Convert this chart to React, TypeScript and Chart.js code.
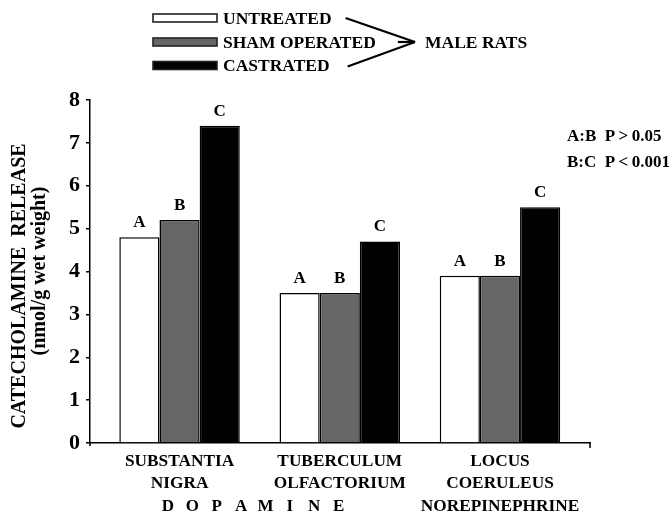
import { useEffect, useRef } from 'react';
import { Chart, registerables } from 'chart.js';

Chart.register(...registerables);

// Brain regions (x axis), one multi-line label each
const regions: string[][] = [
  ['SUBSTANTIA', 'NIGRA'],
  ['TUBERCULUM', 'OLFACTORIUM'],
  ['LOCUS', 'COERULEUS', 'NOREPINEPHRINE'],
];
const dopamineLabel = 'DOPAMINE';

// Treatment groups
const groupNames = ['UNTREATED', 'SHAM OPERATED', 'CASTRATED'];
const groupLetters = ['A', 'B', 'C'];
const groupColors = ['#ffffff', '#666666', '#000000'];
const subjectLabel = 'MALE RATS';

// Catecholamine release, nmol/g wet weight
const untreated = [4.8, 3.5, 3.9];
const shamOperated = [5.2, 3.5, 3.9];
const castrated = [7.4, 4.7, 5.5];

const yTicks = [0, 1, 2, 3, 4, 5, 6, 7, 8];
const yTitle = ['CATECHOLAMINE  RELEASE', '(nmol/g wet weight)'];
const statsLines = ['A:B  P\u2009>\u20090.05', 'B:C  P\u2009<\u20090.001'];

const FONT = "'Liberation Serif', 'Times New Roman', serif";

const series = [untreated, shamOperated, castrated];

const overlay = {
  id: 'overlay',
  afterDraw(chart: any) {
    const ctx: CanvasRenderingContext2D = chart.ctx;
    const area = chart.chartArea;
    const xs = chart.scales.x;
    ctx.save();
    ctx.fillStyle = '#000';
    ctx.strokeStyle = '#000';

    // significance letters over each bar
    ctx.font = `bold 17px ${FONT}`;
    ctx.textAlign = 'center';
    ctx.textBaseline = 'alphabetic';
    chart.data.datasets.forEach((_ds: any, di: number) => {
      const meta = chart.getDatasetMeta(di);
      meta.data.forEach((bar: any) => {
        ctx.fillText(groupLetters[di], bar.x, bar.y - 10);
      });
    });

    // small end tick of the x axis and the y axis overhang
    ctx.lineWidth = 1.5;
    ctx.beginPath();
    ctx.moveTo(area.right, area.bottom);
    ctx.lineTo(area.right, area.bottom + 5);
    ctx.moveTo(area.left, area.bottom);
    ctx.lineTo(area.left, area.bottom + 3);
    ctx.stroke();

    // y axis title, two rotated lines
    ctx.font = `bold 20px ${FONT}`;
    ctx.textAlign = 'center';
    ctx.textBaseline = 'alphabetic';
    const titlePos = [
      { x: 25, y: 286 },
      { x: 45, y: 271 },
    ];
    yTitle.forEach((line, i) => {
      ctx.save();
      ctx.translate(titlePos[i].x, titlePos[i].y);
      ctx.rotate(-Math.PI / 2);
      ctx.fillText(line, 0, 0);
      ctx.restore();
    });

    // spaced transmitter name under the two dopamine regions
    ctx.font = `bold 17px ${FONT}`;
    ctx.textBaseline = 'middle';
    const centre = xs.getPixelForValue(0.46);
    const step = 24.4;
    const chars = dopamineLabel.split('');
    chars.forEach((c, i) => {
      ctx.fillText(c, centre + (i - (chars.length - 1) / 2) * step, 506.5);
    });

    // statistics
    ctx.textAlign = 'left';
    ctx.font = `bold 17px ${FONT}`;
    statsLines.forEach((s, i) => ctx.fillText(s, 567, 137 + i * 25.5));

    // legend
    const rowsY = [18, 42, 65.5];
    const boxX = 153;
    const boxW = 64;
    const boxH = 8;
    const textX = 223;
    ctx.font = `bold 17.5px ${FONT}`;
    const apexX = 415;
    const apexY = rowsY[1];
    const gaps = [14, 22, 18];
    chart.data.datasets.forEach((ds: any, i: number) => {
      const y = rowsY[i];
      ctx.fillStyle = ds.backgroundColor;
      ctx.fillRect(boxX, y - boxH / 2, boxW, boxH);
      ctx.lineWidth = 1.6;
      ctx.strokeStyle = '#222';
      ctx.strokeRect(boxX, y - boxH / 2, boxW, boxH);
      ctx.fillStyle = '#000';
      ctx.fillText(ds.label, textX, y + 1);
      const end = textX + ctx.measureText(ds.label).width + gaps[i];
      ctx.strokeStyle = '#000';
      ctx.lineWidth = 2.2;
      ctx.beginPath();
      ctx.moveTo(end, i === 1 ? apexY : y + (i === 0 ? 0 : 1));
      ctx.lineTo(apexX, apexY);
      ctx.stroke();
    });
    ctx.fillStyle = '#000';
    ctx.fillText(subjectLabel, apexX + 10, apexY + 1);

    ctx.restore();
  },
};

export default function App() {
  const canvasRef = useRef<HTMLCanvasElement>(null);

  useEffect(() => {
    const canvas = canvasRef.current;
    if (!canvas) return;
    const chart = new Chart(canvas, {
      type: 'bar',
      data: {
        datasets: series.map((vals, i) => ({
          label: groupNames[i],
          data: vals.map((v, j) => ({ x: j, y: v })),
          backgroundColor: groupColors[i],
          borderColor: '#000000',
          borderWidth: 1.5,
          categoryPercentage: 0.752,
          barPercentage: 1,
        })),
      },
      options: {
        responsive: false,
        animation: false,
        devicePixelRatio: 1,
        layout: { padding: { top: 100, right: 82, left: 0, bottom: 0 } },
        plugins: {
          legend: { display: false },
          tooltip: { enabled: false },
        },
        scales: {
          x: {
            type: 'linear',
            offset: false,
            min: -0.559,
            max: 2.562,
            afterBuildTicks: (scale: any) => {
              scale.ticks = regions.map((_r, i) => ({ value: i }));
            },
            afterFit: (scale: any) => {
              scale.height = 74;
            },
            ticks: {
              autoSkip: false,
              maxRotation: 0,
              minRotation: 0,
              padding: 7,
              color: '#000',
              font: { family: FONT, size: 17.3, weight: 'bold', lineHeight: 1.3 },
              callback: (value: any) => regions[value as number] ?? '',
            },
            grid: { drawOnChartArea: false, drawTicks: false, offset: false },
            border: { display: true, color: '#000', width: 1.5 },
          },
          y: {
            min: 0,
            max: 8,
            afterBuildTicks: (scale: any) => {
              scale.ticks = yTicks.map((v) => ({ value: v }));
            },
            afterFit: (scale: any) => {
              scale.width = 90;
            },
            ticks: {
              padding: 6,
              color: '#000',
              font: { family: FONT, size: 22, weight: 'bold' },
            },
            grid: { drawOnChartArea: false, drawTicks: true, tickLength: 4, color: '#000', lineWidth: 1.5 },
            border: { display: true, color: '#000', width: 1.5 },
            title: { display: false },
          },
        },
      },
      plugins: [overlay],
    } as any);
    return () => chart.destroy();
  }, []);

  return (
    <div style={{ position: 'absolute', left: 0, top: 0, width: 672, height: 517, background: '#fff' }}>
      <canvas ref={canvasRef} width={672} height={517} style={{ display: 'block', width: 672, height: 517 }} />
    </div>
  );
}
